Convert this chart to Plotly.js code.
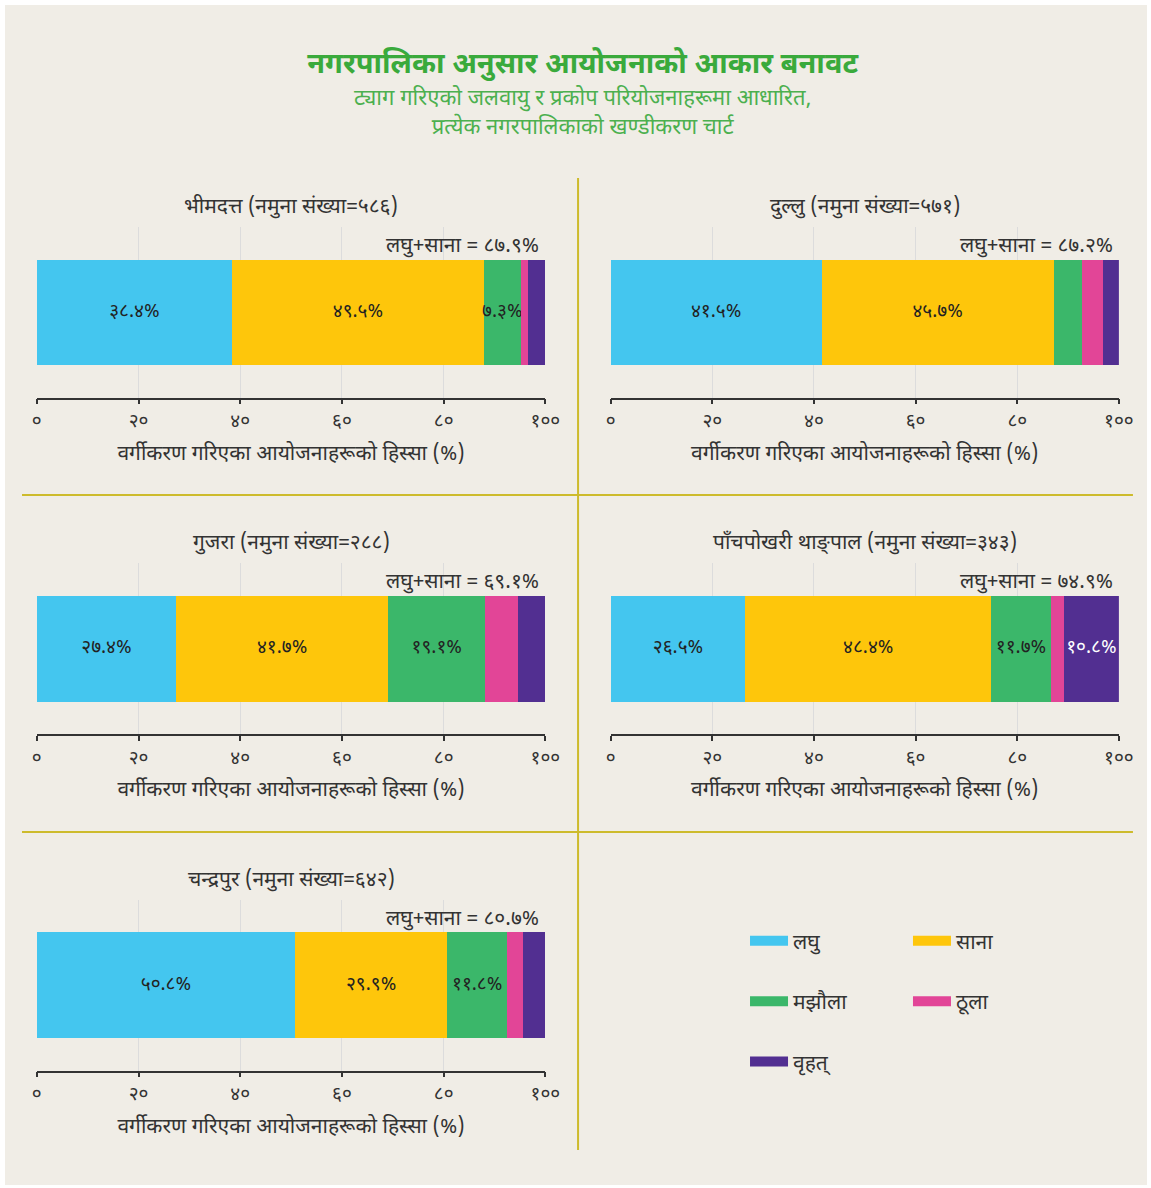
<!DOCTYPE html>
<html>
<head>
<meta charset="utf-8">
<script src="https://cdn.plot.ly/plotly-3.0.1.min.js"></script>
<style>
  html, body { margin: 0; padding: 0; background: #ffffff; }
  #chart { position: absolute; left: 5px; top: 5px; width: 1142px; height: 1180px; }
</style>
</head>
<body>
<div id="chart"></div>
<script>
// ---------------- DATA ----------------
const municipalities = ['भीमदत्त', 'दुल्लु', 'गुजरा', 'पाँचपोखरी थाङ्पाल', 'चन्द्रपुर'];
const sampleSizes = [586, 571, 288, 343, 642];
const categories = ['लघु', 'साना', 'मझौला', 'ठूला', 'वृहत्'];
const laghu    = [38.4, 41.5, 27.4, 26.5, 50.8];
const saana    = [49.5, 45.7, 41.7, 48.4, 29.9];
const majhaula = [7.3, 5.6, 19.1, 11.7, 11.8];
const thulo    = [1.3, 4.1, 6.5, 2.6, 3.0];
const brihat   = [3.5, 3.1, 5.3, 10.8, 4.5];
const tickValues = [0, 20, 40, 60, 80, 100];

const titleText = 'नगरपालिका अनुसार आयोजनाको आकार बनावट';
const subtitleLines = ['ट्याग गरिएको जलवायु र प्रकोप परियोजनाहरूमा आधारित,', 'प्रत्येक नगरपालिकाको खण्डीकरण चार्ट'];
const xAxisTitle = 'वर्गीकरण गरिएका आयोजनाहरूको हिस्सा (%)';
const sampleLabel = 'नमुना संख्या';
const sumLabel = 'लघु+साना';

// ---------------- STYLE ----------------
const seriesValues = [laghu, saana, majhaula, thulo, brihat];
const colors = ['#44c6ef', '#fec60b', '#3bb76a', '#e24597', '#522f91'];
const textColors = ['#222222', '#222222', '#222222', '#222222', '#ffffff'];
const labelMin = 7;
const FONT = '"Noto Sans Devanagari", "Lohit Devanagari", "Noto Sans", "DejaVu Sans", sans-serif';
const bg = '#f0ede6';

const devDigits = ['०','१','२','३','४','५','६','७','८','९'];
function toDev(s) { return String(s).replace(/[0-9]/g, d => devDigits[+d]); }

// panel domains (paper)
const xDomains = [[0.02785, 0.47320], [0.53038, 0.97539], [0.02785, 0.47320], [0.53038, 0.97539], [0.02785, 0.47320]];
const yDomains = [[0.6672, 0.8116], [0.6672, 0.8116], [0.3822, 0.5269], [0.3822, 0.5269], [0.0969, 0.2415]];

const traces = [];
const legendCommon = {
  bgcolor: 'rgba(0,0,0,0)', font: {family: FONT, size: 21, color: '#333333'},
  itemwidth: 38, traceorder: 'grouped', tracegroupgap: 30,
  xanchor: 'left', yanchor: 'top', y: 0.2240
};
const layout = {
  width: 1142, height: 1180,
  margin: {l: 0, r: 0, t: 0, b: 0},
  paper_bgcolor: bg, plot_bgcolor: bg,
  barmode: 'stack',
  showlegend: true,
  font: {family: FONT, color: '#333333'},
  title: {
    text: '<b>' + titleText + '</b>',
    font: {family: FONT, size: 29, color: '#3aaa3c'},
    x: 0.5058, xanchor: 'center', y: 0.9508, yanchor: 'middle'
  },
  annotations: [],
  shapes: [],
  legend: Object.assign({x: 0.648}, legendCommon),
  legend2: Object.assign({x: 0.7907}, legendCommon)
};

layout.annotations.push({
  text: subtitleLines.join('<br>'), xref: 'paper', yref: 'paper',
  x: 0.5058, y: 0.9076, xanchor: 'center', yanchor: 'middle', showarrow: false,
  font: {family: FONT, size: 22, color: '#4cb04f'}
});

municipalities.forEach((m, i) => {
  const n = i + 1;
  const xa = n === 1 ? 'x' : 'x' + n;
  const ya = n === 1 ? 'y' : 'y' + n;
  layout['xaxis' + (n === 1 ? '' : n)] = {
    domain: xDomains[i], anchor: ya, range: [0, 100],
    tickmode: 'array', tickvals: tickValues, ticktext: tickValues.map(toDev),
    showgrid: true, gridcolor: '#dcdcdc', gridwidth: 1, zeroline: false,
    showline: true, linecolor: '#333333', linewidth: 1.5,
    ticks: 'outside', ticklen: 5, tickcolor: '#333333', tickwidth: 1.5,
    tickfont: {family: FONT, size: 19, color: '#333333'},
    title: {text: xAxisTitle, font: {family: FONT, size: 21, color: '#333333'}, standoff: 11},
    fixedrange: true
  };
  layout['yaxis' + (n === 1 ? '' : n)] = {
    domain: yDomains[i], anchor: xa, range: [-0.5, 0.5],
    visible: false, fixedrange: true
  };
  categories.forEach((c, j) => {
    const v = seriesValues[j][i];
    traces.push({
      type: 'bar', orientation: 'h', name: c,
      x: [v], y: [0], width: [0.62], xaxis: xa, yaxis: ya,
      marker: {color: colors[j], line: {width: 0}},
      text: [v >= labelMin ? toDev(v.toFixed(1)) + '%' : ''],
      textposition: 'inside', insidetextanchor: 'middle', constraintext: 'none',
      textangle: 0,
      textfont: {family: FONT, size: 19, color: textColors[j]},
      showlegend: false, hoverinfo: 'x+name'
    });
  });
  // panel title
  layout.annotations.push({
    text: m + ' (' + sampleLabel + '=' + toDev(sampleSizes[i]) + ')',
    xref: xa + ' domain', yref: ya + ' domain', x: 0.5, y: 1.113,
    xanchor: 'center', yanchor: 'middle', showarrow: false,
    font: {family: FONT, size: 21, color: '#333333'}
  });
  // sum annotation
  const s = (laghu[i] + saana[i]).toFixed(1);
  layout.annotations.push({
    text: sumLabel + ' = ' + toDev(s) + '%',
    xref: xa, yref: ya + ' domain', x: 99.2, y: 0.884,
    xanchor: 'right', yanchor: 'middle', showarrow: false,
    font: {family: FONT, size: 21, color: '#333333'}
  });
});

// legend-only entries
const legendAssign = ['legend', 'legend2', 'legend', 'legend2', 'legend'];
categories.forEach((c, j) => {
  traces.push({
    type: 'scatter', mode: 'lines', name: c, x: [null], y: [null],
    xaxis: 'x', yaxis: 'y', line: {color: colors[j], width: 14},
    legend: legendAssign[j], legendgroup: 'g' + j, showlegend: true, hoverinfo: 'skip'
  });
});

// divider lines
const divColor = '#cdbb2c';
layout.shapes.push(
  {type: 'line', xref: 'paper', yref: 'paper', x0: 0.5018, x1: 0.5018, y0: 0.0297, y1: 0.8534, line: {color: divColor, width: 2}},
  {type: 'line', xref: 'paper', yref: 'paper', x0: 0.0149, x1: 0.9877, y0: 0.5847, y1: 0.5847, line: {color: divColor, width: 2}},
  {type: 'line', xref: 'paper', yref: 'paper', x0: 0.0149, x1: 0.9877, y0: 0.2992, y1: 0.2992, line: {color: divColor, width: 2}}
);

Plotly.newPlot('chart', traces, layout, {displayModeBar: false});
</script>
</body>
</html>
